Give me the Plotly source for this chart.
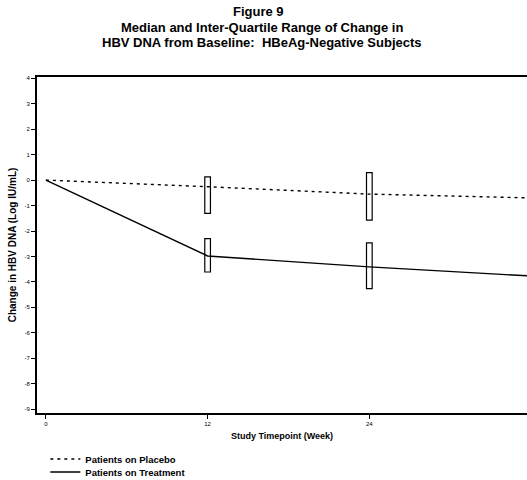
import plotly.graph_objects as go

weeks = [0, 12, 24, 36]
placebo_median = [0.0, -0.26, -0.55, -0.70]
treatment_median = [0.0, -2.98, -3.41, -3.77]

iqr_weeks = [12, 24, 36]
placebo_q1 = [-1.31, -1.57, -2.0]
placebo_q3 = [0.13, 0.29, 0.15]
treatment_q1 = [-3.61, -4.26, -4.79]
treatment_q3 = [-2.30, -2.47, -2.56]

y_ticks = [4, 3, 2, 1, 0, -1, -2, -3, -4, -5, -6, -7, -8, -9]
x_ticks = [0, 12, 24, 36]

font_family = "Liberation Sans, Arial, sans-serif"

fig = go.Figure()

for q1, q3 in [(placebo_q1, placebo_q3), (treatment_q1, treatment_q3)]:
    fig.add_trace(go.Bar(
        x=iqr_weeks,
        y=[b - a for a, b in zip(q1, q3)],
        base=q1,
        width=0.42,
        marker=dict(color="white", line=dict(color="black", width=1.2)),
        showlegend=False,
        hoverinfo="skip",
    ))

fig.add_trace(go.Scatter(
    x=weeks, y=placebo_median, mode="lines",
    name="<b>Patients on Placebo</b>", legend="legend",
    line=dict(color="black", width=1.4, dash="3px,4px"),
))
fig.add_trace(go.Scatter(
    x=weeks, y=treatment_median, mode="lines",
    name="<b>Patients on Treatment</b>", legend="legend2",
    line=dict(color="black", width=1.4),
))

legend_common = dict(
    x=0.017, xanchor="left", yanchor="middle",
    orientation="v", font=dict(size=9.5, family=font_family, color="black"),
    tracegroupgap=0, itemwidth=30, bgcolor="rgba(0,0,0,0)",
)

fig.update_layout(
    width=527, height=480,
    margin=dict(l=37, r=0, t=77, b=67, autoexpand=False),
    paper_bgcolor="white", plot_bgcolor="white",
    font=dict(family=font_family, color="black"),
    barmode="overlay",
    showlegend=True,
    legend=dict(y=-(459 - 413) / 336, **legend_common),
    legend2=dict(y=-(472 - 413) / 336, **legend_common),
)

title_lines = [
    ("<b>Figure 9</b>", 258, 11),
    ("<b>Median and Inter-Quartile Range of Change in</b>", 262, 27),
    ("<b>HBV DNA from Baseline:  HBeAg-Negative Subjects</b>", 262, 43),
]
for text, cx, cy in title_lines:
    fig.add_annotation(text=text, xref="paper", yref="paper",
                       x=(cx - 37) / 490, y=1 + (77 - cy) / 336, showarrow=False,
                       font=dict(size=13), xanchor="center", yanchor="middle")

fig.update_xaxes(
    range=[-0.66, 35.7], tickvals=x_ticks, ticktext=[str(v) for v in x_ticks],
    showline=True, linecolor="black", linewidth=2, mirror=True,
    ticks="outside", ticklen=4, tickcolor="black", tickwidth=1,
    showgrid=False, zeroline=False,
    tickfont=dict(size=6),
    title=dict(text="<b>Study Timepoint (Week)</b>", font=dict(size=9), standoff=6),
)
fig.update_yaxes(
    range=[-9.15, 4.05], tickvals=y_ticks, ticktext=[str(v) for v in y_ticks],
    showline=True, linecolor="black", linewidth=2,
    ticks="outside", ticklen=4, tickcolor="black", tickwidth=1,
    showgrid=False, zeroline=False,
    tickfont=dict(size=6),
    title=dict(text="<b>Change in HBV DNA (Log IU/mL)</b>", font=dict(size=10), standoff=6),
)

fig.write_html("out.html")
